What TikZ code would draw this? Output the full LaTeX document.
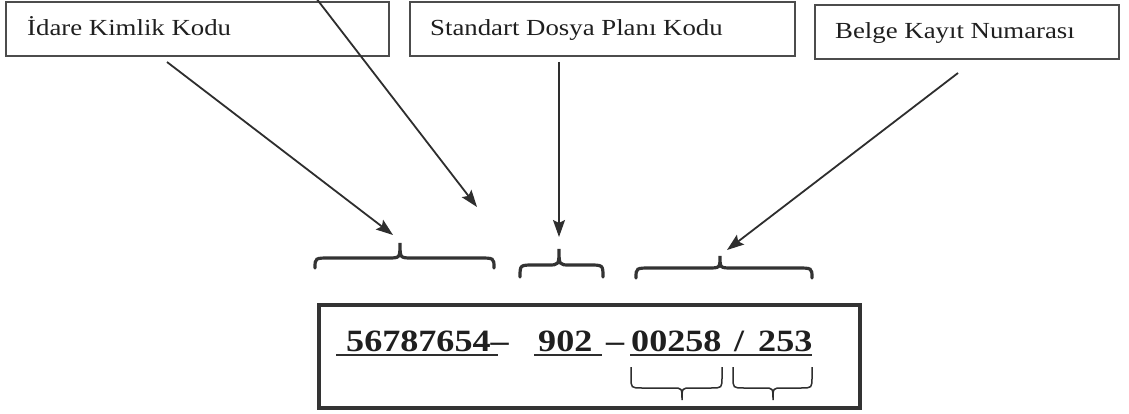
\documentclass[tikz,border=0pt]{standalone}
\usepackage{fontspec}
\setmainfont{Liberation Serif}
\usetikzlibrary{arrows.meta}
\begin{document}
\begin{tikzpicture}[x=1pt,y=-1pt,
  topbox/.style={draw=black!70, line width=1.8pt, inner sep=0pt, anchor=north west, minimum height=54pt},
  lbl/.style={anchor=base west, inner sep=0pt, font=\fontsize{23}{27}\selectfont, text=black!88},
  num/.style={anchor=base west, inner sep=0pt, font=\fontsize{31}{36}\selectfont\bfseries, text=black!88},
  arr/.style={draw=black!82, line width=1.8pt, -{Stealth[length=17pt,width=12pt,inset=3pt]}},
  bigbrace/.style={draw=black!80, line width=3.2pt, line cap=round},
  smallbrace/.style={draw=black!82, line width=1.5pt},
  uline/.style={draw=black!82, line width=2.4pt},
  mainbox/.style={draw=black!80, line width=4pt, inner sep=0pt, anchor=north west}]
\useasboundingbox (0,0) rectangle (1129,414);
\fill[white] (0,0) rectangle (1129,414);

% label boxes
\node[topbox, minimum width=383pt] (b1) at (5,1) {};
\node[topbox, minimum width=385pt] (b2) at (409,1) {};
\node[topbox, minimum width=304pt] (b3) at (814,4) {};
\node[lbl] (t1) at (27,36) {\scalebox{1.165}[1]{İdare Kimlik Kodu}};
\node[lbl] (t2) at (430,36) {\scalebox{1.165}[1]{Standart Dosya Planı Kodu}};
\node[lbl] (t3) at (835,39) {\scalebox{1.165}[1]{Belge Kayıt Numarası}};

% main box
\node[mainbox, minimum width=541pt, minimum height=103pt] (mb) at (317,303) {};

% number parts
\node[num] (n1) at (346,351) {\scalebox{1.165}[1]{56787654–}};
\node[num] (n2) at (538,351) {\scalebox{1.165}[1]{902}};
\node[num] (n3) at (606,351) {\scalebox{1.165}[1]{–}};
\node[num] (n4) at (631,351) {\scalebox{1.165}[1]{00258}};
\node[num] (n5) at (734,351) {\scalebox{1.165}[1]{/}};
\node[num] (n6) at (758,351) {\scalebox{1.165}[1]{253}};

% underlines
\draw[uline] (336,355) -- (498,355);
\draw[uline] (534,355) -- (602,355);
\draw[uline] (630,355) -- (812,355);

% braces above
\draw[bigbrace] (315,268) .. controls (315,258) .. (330,258) -- (388,258)
  .. controls (400,258) .. (400,243) .. controls (400,258) .. (412,258)
  -- (479,258) .. controls (494,258) .. (494,268);
\draw[bigbrace] (520,277) .. controls (520,265) .. (534,265) -- (548,265)
  .. controls (559,265) .. (559,249) .. controls (559,265) .. (570,265)
  -- (589,265) .. controls (603,265) .. (603,277);
\draw[bigbrace] (636,278) .. controls (636,268) .. (651,268) -- (708,268)
  .. controls (720,268) .. (720,256) .. controls (720,268) .. (732,268)
  -- (797,268) .. controls (812,268) .. (812,278);

% small braces below
\draw[smallbrace] (631,367) -- (631,377) .. controls (631,388) .. (642,388) -- (673,388)
  .. controls (682,388) .. (682,400) .. controls (682,388) .. (691,388)
  -- (711,388) .. controls (722,388) .. (722,377) -- (722,367);
\draw[smallbrace] (733,367) -- (733,377) .. controls (733,388) .. (744,388) -- (764,388)
  .. controls (773,388) .. (773,400) .. controls (773,388) .. (782,388)
  -- (801,388) .. controls (812,388) .. (812,377) -- (812,367);

% arrows
\coordinate (A0) at (167,62);  \coordinate (A1) at (393,235);
\coordinate (B0) at (316,-2);  \coordinate (B1) at (477,207);
\coordinate (C0) at (559,62);  \coordinate (C1) at (559,237);
\coordinate (D0) at (958,73);  \coordinate (D1) at (727,250);
\draw[arr] (A0) -- (A1);
\draw[arr] (B0) -- (B1);
\draw[arr] (C0) -- (C1);
\draw[arr] (D0) -- (D1);
\end{tikzpicture}
\end{document}
